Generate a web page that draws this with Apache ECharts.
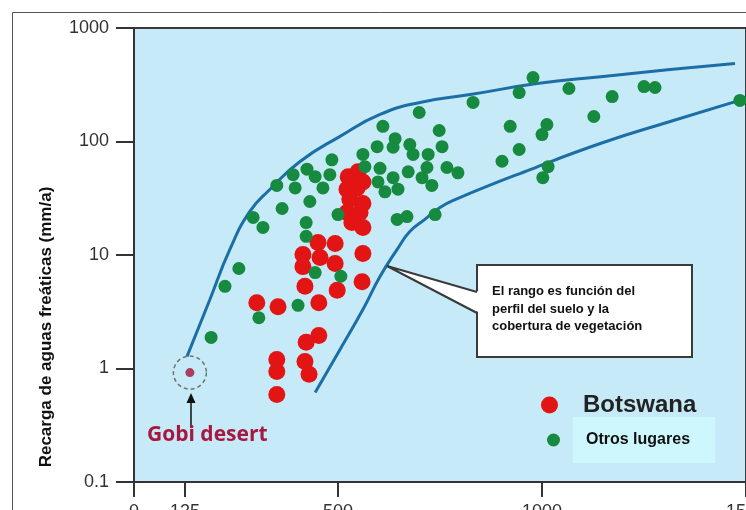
<!DOCTYPE html>
<html>
<head>
<meta charset="utf-8">
<script src="https://cdn.jsdelivr.net/npm/echarts@6/dist/echarts.min.js"></script>
<style>
  body { margin: 0; background: #fff; }
  #chart { width: 746px; height: 510px; }
</style>
</head>
<body>
<div id="chart"></div>
<script>
// precipitación (mm/a) vs recarga (mm/a)
const otrosLugares = [
  [189, 1.88], [223, 5.3], [257, 7.6], [292, 21.4], [316, 17.5], [306, 2.8],
  [350, 41], [363, 25.7], [390, 51], [395, 39], [424, 57], [431, 29.6],
  [422, 19.3], [422, 14.6], [444, 49], [480, 51], [463, 39], [485, 69],
  [500, 22.7], [402, 3.6], [444, 7.0], [507, 6.5], [561, 77], [566, 60],
  [596, 90], [598, 44], [603, 58], [610, 136], [640, 106], [635, 89],
  [676, 94], [684, 77], [721, 77], [755, 90], [748, 125], [699, 180],
  [635, 48], [672, 54], [718, 59], [767, 59], [794, 53], [706, 48],
  [730, 41], [615, 36], [647, 38], [645, 20.6], [669, 21.8], [738, 22.7],
  [831, 221], [902, 67], [978, 366], [944, 270], [1066, 293], [1172, 249],
  [1250, 305], [1277, 299], [1485, 230], [1127, 166], [922, 136], [1012, 141],
  [1000, 115], [944, 85], [1015, 60], [1002, 48]
];
const botswana = [
  [525, 49], [549, 54], [561, 44], [522, 38], [547, 39], [529, 31],
  [561, 28.4], [522, 23.7], [554, 23.7], [534, 19.3], [561, 17.5],
  [451, 12.9], [493, 12.6], [414, 10.1], [456, 9.5], [493, 8.4], [414, 7.9],
  [561, 10.3], [559, 5.8], [419, 5.3], [498, 4.9], [453, 3.8], [301, 3.8],
  [353, 3.5], [453, 1.95], [422, 1.7], [350, 1.2], [419, 1.15], [350, 0.94],
  [429, 0.89], [350, 0.59]
];
const gobiDesert = [[137, 0.92]];
const limiteSuperior = [
  [130, 1.28], [186, 4.05], [235, 11.2], [284, 24.2], [333, 37.8], [407, 66.7],
  [505, 111], [603, 173], [701, 221], [824, 259], [988, 324], [1150, 374],
  [1314, 431], [1473, 487]
];
const limiteInferior = [
  [444, 0.615], [505, 1.47], [561, 3.31], [603, 6.47], [645, 11.2], [676, 16.1],
  [713, 20.6], [750, 26.2], [787, 30.8], [971, 56.6], [1150, 98], [1314, 150],
  [1490, 234]
];
const xTicks = [0, 125, 500, 1000, 1500];

const chart = echarts.init(document.getElementById('chart'));
const font = 'Liberation Sans, Arial, sans-serif';

chart.setOption({
  animation: false,
  textStyle: { fontFamily: font },
  grid: {
    left: 134, right: 0, top: 28, bottom: 28, outerBoundsMode: 'none', containLabel: false,
    show: true, backgroundColor: '#c7eaf8', borderColor: '#3a3a3a', borderWidth: 2
  },
  xAxis: {
    type: 'value', min: 0, max: 1500,
    axisLine: { onZero: false, lineStyle: { color: '#333', width: 2 } },
    axisTick: { inside: false, length: 15, customValues: xTicks, lineStyle: { color: '#333', width: 2 } },
    axisLabel: { customValues: xTicks, margin: 21, fontSize: 18, color: '#333', formatter: v => String(v) },
    splitLine: { show: false }
  },
  yAxis: {
    type: 'log', logBase: 10, min: 0.1, max: 1000, interval: 1,
    axisLine: { lineStyle: { color: '#333', width: 2 } },
    axisTick: { length: 18, lineStyle: { color: '#333', width: 2 } },
    axisLabel: {
      margin: 25, fontSize: 18, color: '#333',
      formatter: v => String(Math.round(v * 10) / 10)
    },
    splitLine: { show: false },
    minorTick: { show: false }
  },
  legend: [
    {
      data: ['Botswana'], left: 541, top: 392, padding: 0, icon: 'circle',
      itemWidth: 17, itemHeight: 17, selectedMode: false,
      textStyle: { fontSize: 24, fontWeight: 'bold', color: '#222', lineHeight: 24, padding: [0, 0, 2, 20] }
    },
    {
      data: ['Otros lugares'], left: 547, top: 420, padding: 0, icon: 'circle',
      itemWidth: 13, itemHeight: 13, selectedMode: false,
      textStyle: { fontSize: 16, fontWeight: 'bold', color: '#111', lineHeight: 18, padding: [0, 0, 22, 21] }
    }
  ],
  graphic: [
    // marco exterior
    { type: 'rect', left: 10, top: 10, shape: { width: 760, height: 520 }, style: { fill: 'none', stroke: '#555', lineWidth: 1 }, silent: true },
    // caja celeste de "Otros lugares"
    { type: 'rect', shape: { x: 573, y: 417, width: 142, height: 46 }, style: { fill: '#cdf7fc' }, z: 1, silent: true },
    // título del eje Y
    {
      type: 'text', x: 46, y: 327, rotation: Math.PI / 2,
      style: { text: 'Recarga de aguas freáticas (mm/a)', fontSize: 17, fontWeight: 'bold', fill: '#111', align: 'center', verticalAlign: 'middle', fontFamily: font }
    },
    // globo de texto
    { type: 'rect', shape: { x: 477, y: 265, width: 215, height: 92 }, style: { fill: '#fff', stroke: '#3a3a3a', lineWidth: 2 }, z: 10 },
    { type: 'polygon', shape: { points: [[387, 266], [480, 292], [480, 313]] }, style: { fill: '#fff' }, z: 11 },
    { type: 'polyline', shape: { points: [[477, 292], [387, 266], [477, 313]] }, style: { stroke: '#3a3a3a', lineWidth: 2, fill: 'none' }, z: 11 },
    {
      type: 'text', x: 492, y: 283, z: 12,
      style: { text: 'El rango es función del\nperfil del suelo y la\ncobertura de vegetación', fontSize: 13, fontWeight: 'bold', fill: '#111', lineHeight: 17.5, fontFamily: font }
    },
    // Gobi desert
    { type: 'line', shape: { x1: 191, y1: 428, x2: 191, y2: 402 }, style: { stroke: '#111', lineWidth: 1.5 }, z: 10 },
    { type: 'polygon', shape: { points: [[191, 393], [186.5, 403], [195.5, 403]] }, style: { fill: '#111' }, z: 10 },
    {
      type: 'text', x: 147, y: 435, z: 10,
      style: { text: 'Gobi desert', fontSize: 21, fontWeight: 'bold', fill: '#a8173f', verticalAlign: 'middle', fontFamily: 'Open Sans, sans-serif' }
    }
  ],
  series: [
    {
      name: 'límite superior', type: 'line', data: limiteSuperior, smooth: true,
      showSymbol: false, lineStyle: { color: '#1b6ea6', width: 3 }, z: 2
    },
    {
      name: 'límite inferior', type: 'line', data: limiteInferior, smooth: true,
      showSymbol: false, lineStyle: { color: '#1b6ea6', width: 3 }, z: 2
    },
    {
      name: 'Botswana', type: 'scatter', data: botswana, symbolSize: 17,
      itemStyle: { color: '#e21414', opacity: 1 }, z: 3
    },
    {
      name: 'Otros lugares', type: 'scatter', data: otrosLugares, symbolSize: 13,
      itemStyle: { color: '#168a3e', opacity: 1 }, z: 4
    },
    {
      name: 'Gobi', type: 'scatter', data: gobiDesert, symbolSize: 9,
      itemStyle: { color: '#a3123a' }, z: 5
    },
    {
      name: 'Gobi círculo', type: 'scatter', data: gobiDesert, symbolSize: 33,
      itemStyle: { color: 'transparent', borderColor: '#555', borderWidth: 1.5, borderType: [4, 3] }, z: 5
    }
  ]
});
</script>
</body>
</html>
